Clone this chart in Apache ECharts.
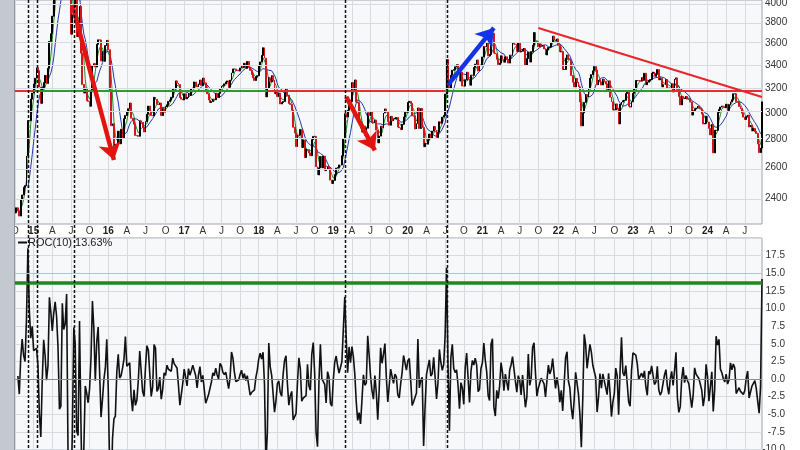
<!DOCTYPE html>
<html><head><meta charset="utf-8">
<script src="https://cdn.jsdelivr.net/npm/echarts@6/dist/echarts.min.js"></script>
<style>html,body{margin:0;padding:0;background:#fff;}#chart{width:800px;height:450px;}</style>
</head><body><div id="chart"></div>
<script>
// Weekly (Friday) closes, Oct 2014 .. Sep 2024
const c2014 = [2310,2340,2320,2290,2390, 2420,2470,2480,2680, 2940,2940,3110,3160];
const c2015 = [3235,3285,3376,3351,3210, 3076,3203,3247,3310, 3241,3372,3617,3691, 3864,4035,4287,4394,
  4480,4206,4308,4658,4611, 5023,5166,4478,4193, 3687,3878,3957,4071,3664, 3744,3965,3508,3232,
  3160,3200,3097,3092, 3053,3183,3391,3412,3383, 3590,3632,3630,3436, 3524,3434,3578,3627];
const c2016 = [3539,3186,2901,2916,2737, 2763,2763,2860,2767, 2874,2810,2955,2979, 3009,3033,3078,2959,2938,
  2913,2828,2826,2822, 2938,2927,2886,2854, 2933,2989,3054,3012,2979, 2977,3125,3108,3070,
  3067,3078,2979,3033,3005, 3049,3064,3091,3104, 3125,3196,3193,3262, 3243,3232,3123,3110,3104];
const c2017 = [3154,3113,3123,3159, 3140,3197,3202,3253, 3218,3212,3237,3269,3223, 3286,3246,3173,3154,
  3103,3083,3090,3110, 3105,3158,3123,3158,3192, 3217,3222,3237,3253, 3262,3208,3268,3331,
  3365,3365,3353,3352,3348, 3374,3390,3378,3416, 3371,3432,3382,3353, 3317,3289,3266,3297,3307];
const c2018 = [3391,3428,3487,3558, 3462,3129,3199,3289, 3254,3307,3269,3152,3168, 3131,3159,3071,3082,
  3091,3163,3193,3141, 3075,3067,3021,2889,2847, 2747,2831,2829,2873, 2740,2795,2669,2729,2725,
  2702,2682,2797,2821, 2821,2606,2550,2598, 2676,2599,2679,2579,2588, 2606,2594,2516,2494];
const c2019 = [2514,2553,2596,2601, 2618,2618,2682,2804, 2994,2969,3021,3104,3091, 3247,3189,3270,3086,
  3078,2939,2882,2853,2899, 2828,2882,3001,2979, 3011,2930,2925,2944, 2868,2774,2823,2897,2886,
  2999,3031,3006,2932, 2905,2973,2938,2955, 2958,2964,2891,2885,2872, 2912,2968,3005,3005];
const c2020 = [3083,3092,3075,2976,2976, 2876,2917,3039,2880, 3034,2887,2746,2772, 2764,2797,2839,2809,
  2860,2895,2868,2813,2852, 2931,2920,2967,2980, 3152,3450,3214,3197,3310, 3354,3360,3385,3404,
  3355,3260,3338,3219, 3218,3272,3336,3278,3225, 3312,3310,3378,3408, 3445,3347,3395,3397];
const c2021 = [3473,3570,3566,3606,3483, 3496,3655,3696,3509, 3502,3453,3405,3418, 3484,3450,3426,3474,3447,
  3418,3490,3487,3601, 3592,3590,3525,3607, 3519,3525,3539,3550,3397, 3458,3517,3427,3522,
  3582,3703,3614,3613, 3568,3592,3572,3582,3547, 3491,3539,3560,3564, 3608,3667,3632,3618,3640];
const c2022 = [3580,3521,3522,3361, 3361,3462,3491,3451, 3447,3309,3251,3212, 3282,3251,3211,3087,2900,
  3001,3084,3147,3131, 3195,3285,3316,3349, 3387,3356,3228,3270,3253, 3227,3276,3258,3236,
  3186,3262,3126,3088,3024, 3024,3071,3038,2915, 3070,3087,3097,3101, 3156,3167,3053,3045,3089];
const c2023 = [3158,3195,3265,3265, 3263,3260,3290,3267, 3328,3230,3251,3266,3273, 3327,3338,3301,3323,
  3360,3272,3283,3212, 3230,3231,3273,3198,3202, 3197,3237,3168,3276, 3288,3189,3132,3064,
  3133,3116,3117,3132,3110, 3110,3088,2983,3017, 3030,3038,3054,3040, 3031,2991,2914,2918,2975];
const c2024 = [2929,2881,2832,2910, 2702,2866,2866,3004, 3027,3046,3054,3048,3041, 3069,3019,3065,3088,
  3105,3154,3154,3089,3087, 3051,3033,2998,2967, 2949,2971,2982,2891, 2905,2862,2880,2855,2842,
  2765,2704,2736,3088];

const firstFriday = [2014, 9, 3];          // Oct 3, 2014
const priceTicks = [2400,2600,2800,3000,3200,3400,3600,3800,4000];
const quarterNames = {3:'A', 6:'J', 9:'O'};
const rocLegend = 'ROC(10) 13.63%';
const rocSignal = 13.63, rocUpper = 15;
const levelPrice = 3177;
const vLineIdx = [9, 15, 41, 230, 301];
const arrowsDef = [
  {from:[40,3979], to:[69,2652], color:'#e3140f'},
  {from:[231,3128], to:[251,2720], color:'#e3140f'},
  {from:[302,3228], to:[334,3747], color:'#1533e6'}
];
const trendDef = {from:[365,3747], to:[521,3128], color:'#e8262a'};
const levelSegs = [[0,13,'#e23030'],[13,176,'#2f9a2f'],[176,300,'#e23030'],[300,457,'#2f9a2f'],[457,521,'#e23030']];

const LN = Math.log;
const closes = [].concat(c2014,c2015,c2016,c2017,c2018,c2019,c2020,c2021,c2022,c2023,c2024);
const N = closes.length;
const dates = [];
{ const t0 = Date.UTC(firstFriday[0], firstFriday[1], firstFriday[2]);
  for (let i = 0; i < N; i++) dates.push(new Date(t0 + i*7*86400000).toISOString().slice(0,10)); }
const isQ = dates.map(s => { const m = +s.slice(5,7)-1, d = +s.slice(8,10); return m % 3 === 0 && d <= 7; });
function qLabel(s){ const m = +s.slice(5,7)-1; return m === 0 ? '{y|' + s.slice(2,4) + '}' : quarterNames[m]; }

const candles = closes.map((c,i) => { const o = i ? closes[i-1] : c;
  return [LN(o), LN(c), LN(Math.min(o,c)), LN(Math.max(o,c))]; });
function sma(a, n){ return a.map((_,i) => { if (i < n-1) return null; let s = 0; for (let k=i-n+1;k<=i;k++) s += a[k]; return LN(s/n); }); }
const maFast = sma(closes, 4), maSlow = sma(closes, 10);
const roc = closes.map((c,i) => i < 2 ? null : +((c/closes[i-2]-1)*100).toFixed(2));

const yMaxLn = LN(4000) + 3/382, yMinLn = LN(4000) - 221/382;
const gridCol = '#d6dae1';
const font = 'Liberation Sans, Arial, sans-serif';

const chart = echarts.init(document.getElementById('chart'), null, {renderer:'canvas'});
const xCommon = { type:'category', data: dates, boundaryGap:false, axisTick:{show:false}, axisLine:{show:false},
  splitLine:{show:true, interval:(i)=>isQ[i], lineStyle:{color:gridCol, width:1}} };

const mk = (a,b,color,width,sym) => ([
  {coord:[dates[a[0]], LN(a[1])], symbol:'none', lineStyle:{color, width, type:'solid'}, itemStyle:{color}},
  {coord:[dates[b[0]], LN(b[1])], symbol: sym || 'none', symbolSize: 17, symbolKeepAspect:true,
   lineStyle:{color, width, type:'solid'}, itemStyle:{color}}]);

chart.setOption({
  animation:false,
  backgroundColor:'#ffffff',
  grid:[
    {left:15, right:38, top:0, height:224, show:true, backgroundColor:'#f7f8fa', borderColor:'#9ea3ab', borderWidth:1, outerBoundsMode:'none', containLabel:false},
    {left:15, right:38, top:238, height:211.5, show:true, backgroundColor:'#f7f8fa', borderColor:'#9ea3ab', borderWidth:1, outerBoundsMode:'none', containLabel:false}
  ],
  xAxis:[
    Object.assign({}, xCommon, {gridIndex:0, axisLabel:{interval:(i)=>isQ[i], formatter:qLabel, margin:2,
      fontSize:10, fontFamily:font, color:'#333', rich:{y:{fontWeight:'bold', fontSize:10, fontFamily:font, color:'#222'}}}}),
    Object.assign({}, xCommon, {gridIndex:1, axisLabel:{show:false}})
  ],
  yAxis:[
    {type:'value', gridIndex:0, position:'right', min:yMinLn, max:yMaxLn, scale:true,
     axisLine:{show:false}, axisTick:{show:false, customValues: priceTicks.map(LN)},
     axisLabel:{customValues: priceTicks.map(LN), formatter:(v)=>String(Math.round(Math.exp(v)/10)*10),
       fontSize:10, fontFamily:font, color:'#333', margin:3},
     splitLine:{show:false}},
    {type:'value', gridIndex:1, position:'right', min:-10, max:20, interval:2.5,
     axisLine:{show:false}, axisTick:{show:false},
     axisLabel:{formatter:(v)=>v.toFixed(1), showMaxLabel:false, align:'right', margin:23,
       fontSize:10, fontFamily:font, color:'#333'},
     splitLine:{show:true, lineStyle:{color:gridCol, width:1}}}
  ],
  series:[
    {type:'line', name:'grid', xAxisIndex:0, yAxisIndex:0, data: closes.map(()=>null), z:1, silent:true,
     markLine:{silent:true, symbol:'none', label:{show:false}, animation:false,
       lineStyle:{color:gridCol, width:1, type:'solid'},
       data: priceTicks.map(p => ({yAxis: LN(p)}))}},
    {type:'line', name:'ma fast', xAxisIndex:0, yAxisIndex:0, data:maFast, showSymbol:false, clip:true, z:2,
     lineStyle:{color:'#218a21', width:1}},
    {type:'line', name:'ma slow', xAxisIndex:0, yAxisIndex:0, data:maSlow, showSymbol:false, clip:true, z:2,
     lineStyle:{color:'#2336a8', width:1}},
    {type:'candlestick', name:'price', xAxisIndex:0, yAxisIndex:0, data:candles, clip:true, z:3,
     barWidth:1.4, itemStyle:{color:'#000', color0:'#d4161a', borderColor:'#000', borderColor0:'#d4161a', borderWidth:1}},
    {type:'line', name:'annot', xAxisIndex:0, yAxisIndex:0, data: closes.map(()=>null), z:6, silent:true,
     markLine:{silent:true, label:{show:false}, animation:false, symbol:['none','arrow'], symbolSize:17,
       lineStyle:{type:'solid'},
       data: [
         ...levelSegs.map(s => mk([s[0],levelPrice],[s[1],levelPrice], s[2], 2)),
         mk(trendDef.from, trendDef.to, trendDef.color, 2),
         ...arrowsDef.map(a => mk(a.from, a.to, a.color, 4.5, 'arrow'))
       ]}},
    {type:'line', name:'ROC', xAxisIndex:1, yAxisIndex:1, data:roc, showSymbol:false, clip:true, z:4,
     lineStyle:{color:'#111', width:1.6},
     markLine:{silent:true, symbol:'none', label:{show:false}, animation:false,
       data:[
         {yAxis:0, lineStyle:{color:'#8c8c8c', width:1, type:'solid'}},
         {yAxis:rocUpper, lineStyle:{color:'#e8a8c8', width:1, type:'solid'}},
         {yAxis:rocSignal, lineStyle:{color:'#1e8a1e', width:3.5, type:'solid'}}
       ]}}
  ]
});

const gfx = [
  {type:'rect', shape:{x:0, y:0, width:14, height:450}, style:{fill:'#c4c8d0'}, z:100},
  {type:'line', shape:{x1:14.5, y1:0, x2:14.5, y2:450}, style:{stroke:'#9096a0', lineWidth:1}, z:100},
  {type:'line', shape:{x1:18, y1:242.5, x2:27, y2:242.5}, style:{stroke:'#111', lineWidth:2}, z:100},
  {type:'text', x:28, y:242.5, style:{text:rocLegend, fontSize:11, fontFamily:font, fill:'#222', textVerticalAlign:'middle'}, z:100}
];
vLineIdx.forEach(i => {
  const x = Math.round(chart.convertToPixel({xAxisIndex:0}, dates[i])) + 0.5;
  gfx.push({type:'line', shape:{x1:x, y1:0, x2:x, y2:450}, style:{stroke:'#111', lineWidth:1.5, lineDash:[3,2]}, z:90});
});
chart.setOption({graphic: gfx});
</script>
</body></html>
